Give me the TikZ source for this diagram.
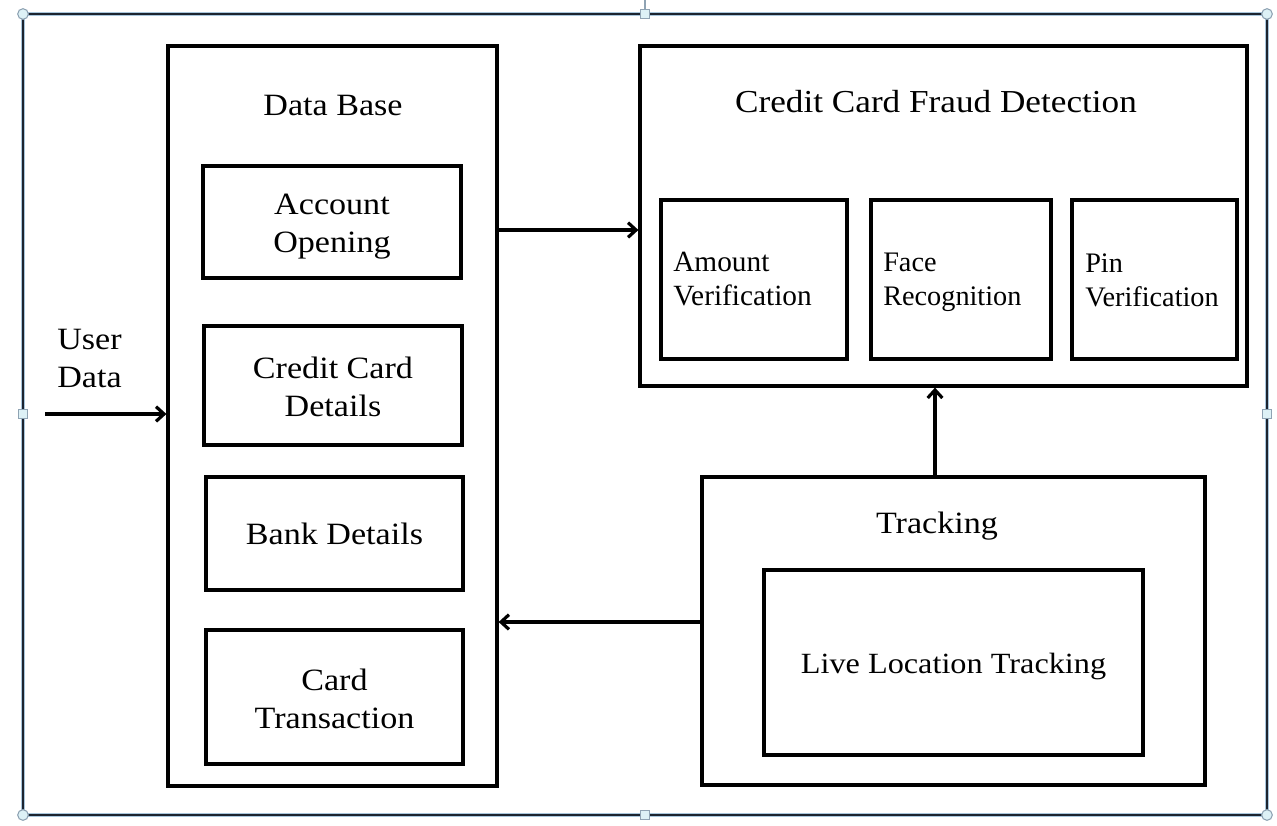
\documentclass[tikz,border=0pt]{standalone}
\usepackage{fontspec}
\setmainfont{Liberation Serif}
\newfontfamily\camb[FakeStretch=1.1]{Liberation Serif}
\usetikzlibrary{arrows.meta}
\definecolor{framedark}{HTML}{1C2430}
\definecolor{frameblue}{HTML}{A9C6DC}
\definecolor{handlefill}{HTML}{DDF1F6}
\definecolor{handledraw}{HTML}{8FA3B3}
\tikzset{
  box/.style={draw=black, line width=2.4pt, inner sep=0pt, fill=white},
  bsize/.style 2 args={minimum width=#1*0.75pt, minimum height=#2*0.75pt},
  big/.style={font=\camb\fontsize{23.25pt}{28.5pt}\selectfont, inner sep=0pt, align=center},
  small/.style={font=\fontsize{22pt}{25.5pt}\selectfont, inner sep=0pt, align=left, anchor=west},
  arr/.style={line width=2.4pt, -{Straight Barb[length=6pt, width=11pt, line width=2.4pt]}},
  hcirc/.style={circle, draw=handledraw, fill=handlefill, line width=0.8pt, minimum size=8pt, inner sep=0pt},
  hsq/.style={rectangle, draw=handledraw, fill=handlefill, line width=0.8pt, minimum size=7pt, inner sep=0pt},
}
\begin{document}
\begin{tikzpicture}[x=0.75pt, y=-0.75pt]
\useasboundingbox (0,0) rectangle (1277,825);
% outer selection frame
\draw[frameblue, line width=3.6pt] (23,14) rectangle (1267,815);
\draw[framedark, line width=1.6pt] (23,14) rectangle (1267,815);
\draw[handledraw, line width=1pt] (645,0) -- (645,14);
\node[hcirc] (h1) at (23,14) {};
\node[hcirc] (h2) at (1267,14) {};
\node[hcirc] (h3) at (23,815) {};
\node[hcirc] (h4) at (1267,815) {};
\node[hsq] (h5) at (645,14) {};
\node[hsq] (h6) at (645,815) {};
\node[hsq] (h7) at (23,414) {};
\node[hsq] (h8) at (1267,414) {};

% Data Base
\node[box, bsize={329}{740}] (db) at (332.5,416) {};
\node[big] (dbt) at (333,105) {Data Base};
\node[box, bsize={258}{112}] (acc) at (332,222) {};
\node[box, bsize={258}{119}] (ccd) at (333,385.5) {};
\node[box, bsize={257}{113}] (bank) at (334.5,533.5) {};
\node[box, bsize={257}{134}] (card) at (334.5,697) {};
\node[big] (acct) at (332,227) {Account\\Opening};
\node[big] (ccdt) at (333,387) {Credit Card\\Details};
\node[big] (bankt) at (334.5,534) {Bank Details};
\node[big] (cardt) at (334.5,699) {Card\\Transaction};

% Credit Card Fraud Detection
\node[box, bsize={607}{340}] (cc) at (943.5,216) {};
\node[big, font=\camb\fontsize{24pt}{28.5pt}\selectfont] (cct) at (936,102) {Credit Card Fraud Detection};
\node[box, bsize={186}{159}] (amt) at (754,279.5) {};
\node[box, bsize={180}{159}] (face) at (961,279.5) {};
\node[box, bsize={165}{159}] (pin) at (1154.5,279.5) {};
\node[small] (amtt) at (673,279) {Amount\\Verification};
\node[small, font=\fontsize{21.2pt}{25.5pt}\selectfont] (facet) at (883,282) {Face\\Recognition};
\node[small, font=\fontsize{21.2pt}{25.5pt}\selectfont] (pint) at (1085,280) {Pin\\Verification};

% Tracking
\node[box, bsize={503}{308}] (tr) at (953.5,631) {};
\node[big] (trt) at (937,526) {Tracking};
\node[box, bsize={379}{185}] (live) at (953.5,662.5) {};
\node[big, font=\camb\fontsize{22pt}{28.5pt}\selectfont] (livet) at (953.5,666) {Live Location Tracking};

% User data
\node[big, align=left, anchor=west] (ud) at (57,358) {User\\Data};
\coordinate (us) at (45,414);
\draw[arr] (us) -- (us -| db.west);

% connectors
\coordinate (a1) at (570,230);
\draw[arr] (db.east |- a1) -- (cc.west |- a1);
\coordinate (a2) at (935,430);
\draw[arr] (tr.north -| a2) -- (cc.south -| a2);
\coordinate (a3) at (600,622);
\draw[arr] (tr.west |- a3) -- (db.east |- a3);
\end{tikzpicture}
\end{document}
